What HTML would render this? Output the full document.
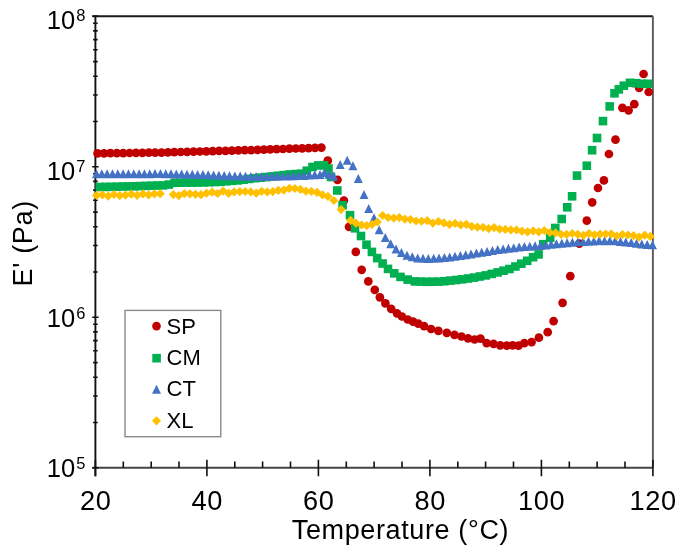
<!DOCTYPE html>
<html><head><meta charset="utf-8"><style>
html,body{margin:0;padding:0;background:#fff;}
body{width:684px;height:559px;overflow:hidden;font-family:"Liberation Sans", sans-serif;}
svg{display:block;filter:blur(0.35px);}
</style></head><body>
<svg width="684" height="559" viewBox="0 0 684 559" font-family='"Liberation Sans", sans-serif' fill="#000">
<rect width="684" height="559" fill="#fff"/>
<path d="M92.4 16.3H652.9" stroke="#1a1a1a" stroke-width="1.9" fill="none"/>
<path d="M652.9 16.3V467.8" stroke="#5a5a5a" stroke-width="1.9" fill="none"/>
<path d="M92.4 467.8H652.9" stroke="#444" stroke-width="1.9" fill="none"/>
<path d="M95.4 15.4V476.2" stroke="#111" stroke-width="1.9" fill="none"/>
<path d="M93.1 422.5H97.7M93.1 396.0H97.7M93.1 377.2H97.7M93.1 362.6H97.7M93.1 350.7H97.7M93.1 340.6H97.7M93.1 331.9H97.7M93.1 324.2H97.7M93.1 272.0H97.7M93.1 245.5H97.7M93.1 226.7H97.7M93.1 212.1H97.7M93.1 200.2H97.7M93.1 190.1H97.7M93.1 181.4H97.7M93.1 173.7H97.7M93.1 121.5H97.7M93.1 95.0H97.7M93.1 76.2H97.7M93.1 61.6H97.7M93.1 49.7H97.7M93.1 39.6H97.7M93.1 30.9H97.7M93.1 23.2H97.7M92.2 467.8H98.6M92.2 317.3H98.6M92.2 166.8H98.6M92.2 16.3H98.6M95.4 459.8V476.2M206.9 459.8V476.2M318.4 459.8V476.2M429.9 459.8V476.2M541.4 459.8V476.2M652.9 459.8V476.2M123.3 461.5V467.8M151.2 461.5V467.8M179.0 461.5V467.8M234.8 461.5V467.8M262.6 461.5V467.8M290.5 461.5V467.8M346.3 461.5V467.8M374.1 461.5V467.8M402.0 461.5V467.8M457.8 461.5V467.8M485.6 461.5V467.8M513.5 461.5V467.8M569.3 461.5V467.8M597.1 461.5V467.8M625.0 461.5V467.8" stroke="#111" stroke-width="1.6" fill="none"/>
<g>
<g fill="#C00000"><circle cx="97.6" cy="153.4" r="4.35"/><circle cx="104.0" cy="153.3" r="4.35"/><circle cx="110.4" cy="153.2" r="4.35"/><circle cx="116.8" cy="153.2" r="4.35"/><circle cx="123.2" cy="153.1" r="4.35"/><circle cx="129.6" cy="153.0" r="4.35"/><circle cx="136.0" cy="152.9" r="4.35"/><circle cx="142.4" cy="152.8" r="4.35"/><circle cx="148.8" cy="152.7" r="4.35"/><circle cx="155.1" cy="152.7" r="4.35"/><circle cx="161.5" cy="152.6" r="4.35"/><circle cx="167.9" cy="152.4" r="4.35"/><circle cx="174.3" cy="152.2" r="4.35"/><circle cx="180.7" cy="152.0" r="4.35"/><circle cx="187.1" cy="151.8" r="4.35"/><circle cx="193.5" cy="151.7" r="4.35"/><circle cx="199.9" cy="151.5" r="4.35"/><circle cx="206.3" cy="151.3" r="4.35"/><circle cx="212.7" cy="151.1" r="4.35"/><circle cx="219.1" cy="150.9" r="4.35"/><circle cx="225.5" cy="150.8" r="4.35"/><circle cx="231.9" cy="150.6" r="4.35"/><circle cx="238.3" cy="150.4" r="4.35"/><circle cx="244.7" cy="150.2" r="4.35"/><circle cx="251.1" cy="150.1" r="4.35"/><circle cx="257.5" cy="149.9" r="4.35"/><circle cx="263.9" cy="149.7" r="4.35"/><circle cx="270.2" cy="149.4" r="4.35"/><circle cx="276.6" cy="149.2" r="4.35"/><circle cx="283.0" cy="149.0" r="4.35"/><circle cx="289.4" cy="148.7" r="4.35"/><circle cx="295.8" cy="148.5" r="4.35"/><circle cx="302.2" cy="148.3" r="4.35"/><circle cx="308.6" cy="148.1" r="4.35"/><circle cx="315.0" cy="147.8" r="4.35"/><circle cx="321.4" cy="147.6" r="4.35"/><circle cx="327.8" cy="160.7" r="4.35"/><circle cx="337.5" cy="179.8" r="4.35"/><circle cx="343.9" cy="200.6" r="4.35"/><circle cx="349.0" cy="226.8" r="4.35"/><circle cx="355.8" cy="251.9" r="4.35"/><circle cx="361.7" cy="269.8" r="4.35"/><circle cx="368.3" cy="281.4" r="4.35"/><circle cx="374.8" cy="289.9" r="4.35"/><circle cx="379.9" cy="297.3" r="4.35"/><circle cx="385.4" cy="303.4" r="4.35"/><circle cx="391.2" cy="308.9" r="4.35"/><circle cx="397.0" cy="313.3" r="4.35"/><circle cx="401.9" cy="316.5" r="4.35"/><circle cx="407.7" cy="319.5" r="4.35"/><circle cx="413.1" cy="321.7" r="4.35"/><circle cx="418.2" cy="323.6" r="4.35"/><circle cx="424.1" cy="326.1" r="4.35"/><circle cx="431.1" cy="329.0" r="4.35"/><circle cx="438.4" cy="330.9" r="4.35"/><circle cx="446.8" cy="332.9" r="4.35"/><circle cx="454.5" cy="334.8" r="4.35"/><circle cx="461.5" cy="336.5" r="4.35"/><circle cx="468.0" cy="338.3" r="4.35"/><circle cx="474.6" cy="339.5" r="4.35"/><circle cx="480.5" cy="338.7" r="4.35"/><circle cx="486.6" cy="343.1" r="4.35"/><circle cx="493.6" cy="343.9" r="4.35"/><circle cx="500.2" cy="345.3" r="4.35"/><circle cx="506.8" cy="345.6" r="4.35"/><circle cx="512.6" cy="345.3" r="4.35"/><circle cx="518.5" cy="345.6" r="4.35"/><circle cx="524.3" cy="343.1" r="4.35"/><circle cx="531.6" cy="342.1" r="4.35"/><circle cx="538.9" cy="337.7" r="4.35"/><circle cx="547.7" cy="332.2" r="4.35"/><circle cx="553.6" cy="321.2" r="4.35"/><circle cx="562.6" cy="302.8" r="4.35"/><circle cx="570.3" cy="276.2" r="4.35"/><circle cx="579.3" cy="243.6" r="4.35"/><circle cx="586.8" cy="220.6" r="4.35"/><circle cx="592.2" cy="202.3" r="4.35"/><circle cx="598.0" cy="188.0" r="4.35"/><circle cx="603.9" cy="180.4" r="4.35"/><circle cx="608.9" cy="154.0" r="4.35"/><circle cx="615.5" cy="139.7" r="4.35"/><circle cx="622.4" cy="107.8" r="4.35"/><circle cx="628.6" cy="110.3" r="4.35"/><circle cx="634.3" cy="104.2" r="4.35"/><circle cx="639.1" cy="87.8" r="4.35"/><circle cx="643.6" cy="74.0" r="4.35"/><circle cx="648.7" cy="92.0" r="4.35"/></g>
<g fill="#00B050"><rect x="95.5" y="182.7" width="8.6" height="8.6"/><rect x="101.2" y="182.6" width="8.6" height="8.6"/><rect x="107.0" y="182.5" width="8.6" height="8.6"/><rect x="112.7" y="182.4" width="8.6" height="8.6"/><rect x="118.5" y="182.2" width="8.6" height="8.6"/><rect x="124.2" y="182.1" width="8.6" height="8.6"/><rect x="130.0" y="182.0" width="8.6" height="8.6"/><rect x="135.7" y="181.8" width="8.6" height="8.6"/><rect x="141.5" y="181.6" width="8.6" height="8.6"/><rect x="147.2" y="181.4" width="8.6" height="8.6"/><rect x="153.0" y="181.2" width="8.6" height="8.6"/><rect x="158.7" y="181.1" width="8.6" height="8.6"/><rect x="164.5" y="180.3" width="8.6" height="8.6"/><rect x="170.2" y="178.5" width="8.6" height="8.6"/><rect x="176.0" y="178.4" width="8.6" height="8.6"/><rect x="181.7" y="178.3" width="8.6" height="8.6"/><rect x="187.5" y="178.3" width="8.6" height="8.6"/><rect x="193.2" y="178.2" width="8.6" height="8.6"/><rect x="199.0" y="178.1" width="8.6" height="8.6"/><rect x="204.7" y="177.9" width="8.6" height="8.6"/><rect x="210.5" y="177.7" width="8.6" height="8.6"/><rect x="216.2" y="177.5" width="8.6" height="8.6"/><rect x="222.0" y="177.0" width="8.6" height="8.6"/><rect x="227.7" y="176.5" width="8.6" height="8.6"/><rect x="233.5" y="176.1" width="8.6" height="8.6"/><rect x="239.2" y="175.4" width="8.6" height="8.6"/><rect x="245.0" y="174.6" width="8.6" height="8.6"/><rect x="250.7" y="173.9" width="8.6" height="8.6"/><rect x="256.5" y="173.4" width="8.6" height="8.6"/><rect x="262.2" y="172.8" width="8.6" height="8.6"/><rect x="268.0" y="172.1" width="8.6" height="8.6"/><rect x="273.7" y="171.4" width="8.6" height="8.6"/><rect x="279.5" y="170.8" width="8.6" height="8.6"/><rect x="285.2" y="170.2" width="8.6" height="8.6"/><rect x="291.0" y="169.8" width="8.6" height="8.6"/><rect x="296.7" y="169.4" width="8.6" height="8.6"/><rect x="302.5" y="166.4" width="8.6" height="8.6"/><rect x="308.2" y="162.7" width="8.6" height="8.6"/><rect x="314.0" y="161.1" width="8.6" height="8.6"/><rect x="319.7" y="160.9" width="8.6" height="8.6"/><rect x="324.2" y="164.2" width="8.6" height="8.6"/><rect x="326.7" y="172.7" width="8.6" height="8.6"/><rect x="333.0" y="186.2" width="8.6" height="8.6"/><rect x="338.3" y="200.9" width="8.6" height="8.6"/><rect x="345.7" y="210.9" width="8.6" height="8.6"/><rect x="350.7" y="224.0" width="8.6" height="8.6"/><rect x="356.7" y="231.7" width="8.6" height="8.6"/><rect x="362.2" y="240.4" width="8.6" height="8.6"/><rect x="367.6" y="247.6" width="8.6" height="8.6"/><rect x="372.9" y="253.8" width="8.6" height="8.6"/><rect x="378.3" y="259.2" width="8.6" height="8.6"/><rect x="383.7" y="264.6" width="8.6" height="8.6"/><rect x="389.9" y="269.0" width="8.6" height="8.6"/><rect x="396.2" y="272.6" width="8.6" height="8.6"/><rect x="403.4" y="275.3" width="8.6" height="8.6"/><rect x="410.5" y="277.1" width="8.6" height="8.6"/><rect x="416.4" y="277.3" width="8.6" height="8.6"/><rect x="422.3" y="277.5" width="8.6" height="8.6"/><rect x="428.2" y="277.4" width="8.6" height="8.6"/><rect x="434.2" y="277.3" width="8.6" height="8.6"/><rect x="440.1" y="276.9" width="8.6" height="8.6"/><rect x="446.0" y="276.3" width="8.6" height="8.6"/><rect x="451.9" y="275.7" width="8.6" height="8.6"/><rect x="457.8" y="275.0" width="8.6" height="8.6"/><rect x="463.7" y="274.2" width="8.6" height="8.6"/><rect x="469.7" y="273.3" width="8.6" height="8.6"/><rect x="475.6" y="272.2" width="8.6" height="8.6"/><rect x="481.5" y="271.1" width="8.6" height="8.6"/><rect x="487.4" y="269.6" width="8.6" height="8.6"/><rect x="493.3" y="268.1" width="8.6" height="8.6"/><rect x="499.2" y="266.4" width="8.6" height="8.6"/><rect x="505.1" y="264.7" width="8.6" height="8.6"/><rect x="511.1" y="262.2" width="8.6" height="8.6"/><rect x="517.0" y="259.4" width="8.6" height="8.6"/><rect x="522.9" y="256.5" width="8.6" height="8.6"/><rect x="528.8" y="252.9" width="8.6" height="8.6"/><rect x="534.3" y="250.1" width="8.6" height="8.6"/><rect x="538.9" y="239.9" width="8.6" height="8.6"/><rect x="545.9" y="233.5" width="8.6" height="8.6"/><rect x="551.0" y="223.7" width="8.6" height="8.6"/><rect x="557.4" y="214.7" width="8.6" height="8.6"/><rect x="562.9" y="203.0" width="8.6" height="8.6"/><rect x="567.8" y="192.0" width="8.6" height="8.6"/><rect x="572.7" y="171.3" width="8.6" height="8.6"/><rect x="582.5" y="161.4" width="8.6" height="8.6"/><rect x="587.8" y="145.9" width="8.6" height="8.6"/><rect x="592.7" y="133.7" width="8.6" height="8.6"/><rect x="598.7" y="116.8" width="8.6" height="8.6"/><rect x="605.4" y="102.1" width="8.6" height="8.6"/><rect x="610.2" y="89.0" width="8.6" height="8.6"/><rect x="614.5" y="85.1" width="8.6" height="8.6"/><rect x="619.5" y="81.4" width="8.6" height="8.6"/><rect x="625.7" y="78.5" width="8.6" height="8.6"/><rect x="632.0" y="78.9" width="8.6" height="8.6"/><rect x="637.7" y="79.5" width="8.6" height="8.6"/><rect x="643.9" y="79.5" width="8.6" height="8.6"/></g>
<g fill="#4472C4"><path d="M96.5 169.3L101.0 178.3L92.0 178.3ZM101.8 169.3L106.3 178.3L97.3 178.3ZM107.1 169.3L111.6 178.3L102.6 178.3ZM112.5 169.3L117.0 178.3L108.0 178.3ZM117.8 169.3L122.3 178.3L113.3 178.3ZM123.1 169.3L127.6 178.3L118.6 178.3ZM128.4 169.3L132.9 178.3L123.9 178.3ZM133.8 169.3L138.2 178.3L129.2 178.3ZM139.1 169.2L143.6 178.2L134.6 178.2ZM144.4 169.2L148.9 178.2L139.9 178.2ZM149.7 169.2L154.2 178.2L145.2 178.2ZM155.0 169.1L159.5 178.1L150.5 178.1ZM160.4 169.1L164.9 178.1L155.9 178.1ZM165.7 169.2L170.2 178.2L161.2 178.2ZM171.0 169.3L175.5 178.3L166.5 178.3ZM176.3 169.5L180.8 178.5L171.8 178.5ZM181.6 169.6L186.1 178.6L177.1 178.6ZM187.0 169.7L191.5 178.7L182.5 178.7ZM192.3 169.8L196.8 178.8L187.8 178.8ZM197.6 169.9L202.1 178.9L193.1 178.9ZM202.9 170.1L207.4 179.1L198.4 179.1ZM208.2 170.3L212.8 179.3L203.8 179.3ZM213.6 170.5L218.1 179.5L209.1 179.5ZM218.9 170.8L223.4 179.8L214.4 179.8ZM224.2 171.0L228.7 180.0L219.7 180.0ZM229.5 171.2L234.0 180.2L225.0 180.2ZM234.9 171.4L239.4 180.4L230.4 180.4ZM240.2 171.6L244.7 180.6L235.7 180.6ZM245.5 171.8L250.0 180.8L241.0 180.8ZM250.8 172.0L255.3 181.0L246.3 181.0ZM256.1 171.9L260.6 180.9L251.6 180.9ZM261.5 171.9L266.0 180.9L257.0 180.9ZM266.8 171.8L271.3 180.8L262.3 180.8ZM272.1 171.8L276.6 180.8L267.6 180.8ZM277.4 171.7L281.9 180.7L272.9 180.7ZM282.8 171.6L287.2 180.6L278.2 180.6ZM288.1 171.5L292.6 180.5L283.6 180.5ZM293.4 171.3L297.9 180.3L288.9 180.3ZM298.7 171.1L303.2 180.1L294.2 180.1ZM304.0 170.9L308.5 179.9L299.5 179.9ZM309.4 170.5L313.9 179.5L304.9 179.5ZM314.7 170.2L319.2 179.2L310.2 179.2ZM320.0 169.9L324.5 178.9L315.5 178.9ZM324.3 167.9L328.8 176.9L319.8 176.9ZM329.0 169.7L333.5 178.7L324.5 178.7ZM333.6 171.5L338.1 180.5L329.1 180.5ZM340.2 159.9L344.7 168.9L335.7 168.9ZM347.2 155.8L351.7 164.8L342.7 164.8ZM352.9 161.2L357.4 170.2L348.4 170.2ZM358.3 174.1L362.8 183.1L353.8 183.1ZM364.0 190.0L368.5 199.0L359.5 199.0ZM368.7 204.1L373.2 213.1L364.2 213.1ZM374.0 213.3L378.5 222.3L369.5 222.3ZM379.2 225.3L383.7 234.3L374.7 234.3ZM385.3 232.9L389.8 241.9L380.8 241.9ZM390.7 239.3L395.2 248.3L386.2 248.3ZM396.0 244.5L400.5 253.5L391.5 253.5ZM401.4 248.1L405.9 257.1L396.9 257.1ZM407.0 250.8L411.5 259.8L402.5 259.8ZM412.3 252.3L416.8 261.3L407.8 261.3ZM417.7 253.4L422.2 262.4L413.2 262.4ZM423.0 253.7L427.5 262.7L418.5 262.7ZM428.3 253.9L432.8 262.9L423.8 262.9ZM433.7 253.8L438.2 262.8L429.2 262.8ZM439.0 253.5L443.5 262.5L434.5 262.5ZM444.4 253.1L448.9 262.1L439.9 262.1ZM449.7 252.5L454.2 261.5L445.2 261.5ZM455.0 251.8L459.5 260.8L450.5 260.8ZM460.4 251.0L464.9 260.0L455.9 260.0ZM465.7 250.2L470.2 259.2L461.2 259.2ZM471.0 249.4L475.5 258.4L466.5 258.4ZM476.4 248.6L480.9 257.6L471.9 257.6ZM481.7 247.8L486.2 256.8L477.2 256.8ZM487.1 246.9L491.6 255.9L482.6 255.9ZM492.4 246.0L496.9 255.0L487.9 255.0ZM497.7 245.1L502.2 254.1L493.2 254.1ZM503.1 244.4L507.6 253.4L498.6 253.4ZM508.4 243.8L512.9 252.8L503.9 252.8ZM513.7 243.2L518.2 252.2L509.2 252.2ZM519.1 242.6L523.6 251.6L514.6 251.6ZM524.4 242.1L528.9 251.1L519.9 251.1ZM529.8 241.7L534.2 250.7L525.2 250.7ZM535.1 241.3L539.6 250.3L530.6 250.3ZM540.4 240.9L544.9 249.9L535.9 249.9ZM545.8 240.4L550.3 249.4L541.3 249.4ZM551.1 239.8L555.6 248.8L546.6 248.8ZM556.4 239.3L560.9 248.3L551.9 248.3ZM561.8 238.8L566.3 247.8L557.3 247.8ZM567.1 238.3L571.6 247.3L562.6 247.3ZM572.4 237.8L576.9 246.8L567.9 246.8ZM577.8 237.3L582.3 246.3L573.3 246.3ZM583.1 236.9L587.6 245.9L578.6 245.9ZM588.5 236.7L593.0 245.7L584.0 245.7ZM593.8 236.4L598.3 245.4L589.3 245.4ZM599.1 236.1L603.6 245.1L594.6 245.1ZM604.5 236.2L609.0 245.2L600.0 245.2ZM609.8 236.2L614.3 245.2L605.3 245.2ZM615.1 236.3L619.6 245.3L610.6 245.3ZM620.5 236.9L625.0 245.9L616.0 245.9ZM625.8 237.5L630.3 246.5L621.3 246.5ZM631.2 238.1L635.7 247.1L626.7 247.1ZM636.5 238.8L641.0 247.8L632.0 247.8ZM641.8 239.5L646.3 248.5L637.3 248.5ZM647.2 240.0L651.7 249.0L642.7 249.0ZM652.5 240.3L657.0 249.3L648.0 249.3Z"/></g>
<g fill="#FFC000"><path d="M96.6 190.7L101.2 195.3L96.6 199.9L92.0 195.3ZM102.4 190.2L107.0 194.8L102.4 199.4L97.8 194.8ZM108.2 191.5L112.8 196.1L108.2 200.7L103.6 196.1ZM113.9 189.9L118.5 194.5L113.9 199.1L109.3 194.5ZM119.7 191.0L124.3 195.6L119.7 200.2L115.1 195.6ZM125.5 190.5L130.1 195.1L125.5 199.7L120.9 195.1ZM131.3 189.6L135.9 194.2L131.3 198.8L126.7 194.2ZM137.1 190.7L141.7 195.3L137.1 199.9L132.5 195.3ZM142.9 189.3L147.5 193.9L142.9 198.5L138.3 193.9ZM148.6 190.3L153.2 194.9L148.6 199.5L144.0 194.9ZM154.4 189.2L159.0 193.8L154.4 198.4L149.8 193.8ZM160.2 189.1L164.8 193.7L160.2 198.3L155.6 193.7ZM173.4 190.0L178.0 194.6L173.4 199.2L168.8 194.6ZM178.9 191.0L183.5 195.6L178.9 200.2L174.3 195.6ZM184.4 189.0L189.0 193.6L184.4 198.2L179.8 193.6ZM190.0 189.2L194.6 193.8L190.0 198.4L185.4 193.8ZM195.5 189.7L200.1 194.3L195.5 198.9L190.9 194.3ZM201.0 190.1L205.6 194.7L201.0 199.3L196.4 194.7ZM206.5 188.6L211.1 193.2L206.5 197.8L201.9 193.2ZM212.1 187.6L216.7 192.2L212.1 196.8L207.5 192.2ZM217.6 188.9L222.2 193.5L217.6 198.1L213.0 193.5ZM223.1 186.5L227.7 191.1L223.1 195.7L218.5 191.1ZM228.6 188.7L233.2 193.3L228.6 197.9L224.0 193.3ZM234.1 187.3L238.7 191.9L234.1 196.5L229.5 191.9ZM239.7 187.0L244.3 191.6L239.7 196.2L235.1 191.6ZM245.2 186.9L249.8 191.5L245.2 196.1L240.6 191.5ZM250.7 187.3L255.3 191.9L250.7 196.5L246.1 191.9ZM256.2 188.6L260.8 193.2L256.2 197.8L251.6 193.2ZM261.7 186.7L266.3 191.3L261.7 195.9L257.1 191.3ZM267.3 187.3L271.9 191.9L267.3 196.5L262.7 191.9ZM272.8 187.0L277.4 191.6L272.8 196.2L268.2 191.6ZM278.3 185.7L282.9 190.3L278.3 194.9L273.7 190.3ZM283.8 185.6L288.4 190.2L283.8 194.8L279.2 190.2ZM289.4 183.7L294.0 188.3L289.4 192.9L284.8 188.3ZM294.9 183.9L299.5 188.5L294.9 193.1L290.3 188.5ZM300.4 184.8L305.0 189.4L300.4 194.0L295.8 189.4ZM305.9 186.6L310.5 191.2L305.9 195.8L301.3 191.2ZM311.4 186.8L316.0 191.4L311.4 196.0L306.8 191.4ZM317.0 187.8L321.6 192.4L317.0 197.0L312.4 192.4ZM322.5 190.2L327.1 194.8L322.5 199.4L317.9 194.8ZM328.0 191.8L332.6 196.4L328.0 201.0L323.4 196.4ZM333.9 195.9L338.5 200.5L333.9 205.1L329.3 200.5ZM341.1 205.0L345.7 209.6L341.1 214.2L336.5 209.6ZM350.6 215.8L355.2 220.4L350.6 225.0L346.0 220.4ZM355.9 218.6L360.5 223.2L355.9 227.8L351.3 223.2ZM361.6 220.4L366.2 225.0L361.6 229.6L357.0 225.0ZM366.8 221.0L371.4 225.6L366.8 230.2L362.2 225.6ZM372.1 219.8L376.7 224.4L372.1 229.0L367.5 224.4ZM377.4 217.4L382.0 222.0L377.4 226.6L372.8 222.0ZM382.6 210.9L387.2 215.5L382.6 220.1L378.0 215.5ZM388.2 212.9L392.8 217.5L388.2 222.1L383.6 217.5ZM393.8 213.5L398.4 218.1L393.8 222.7L389.2 218.1ZM399.3 213.0L403.9 217.6L399.3 222.2L394.7 217.6ZM404.9 214.5L409.5 219.1L404.9 223.7L400.3 219.1ZM410.5 214.9L415.1 219.5L410.5 224.1L405.9 219.5ZM416.1 216.4L420.7 221.0L416.1 225.6L411.5 221.0ZM421.6 216.6L426.2 221.2L421.6 225.8L417.0 221.2ZM427.2 216.1L431.8 220.7L427.2 225.3L422.6 220.7ZM432.8 218.5L437.4 223.1L432.8 227.7L428.2 223.1ZM438.4 216.9L443.0 221.5L438.4 226.1L433.8 221.5ZM443.9 218.3L448.5 222.9L443.9 227.5L439.3 222.9ZM449.5 219.8L454.1 224.4L449.5 229.0L444.9 224.4ZM455.1 218.8L459.7 223.4L455.1 228.0L450.5 223.4ZM460.7 220.3L465.3 224.9L460.7 229.5L456.1 224.9ZM466.3 219.7L470.9 224.3L466.3 228.9L461.7 224.3ZM471.8 221.8L476.4 226.4L471.8 231.0L467.2 226.4ZM477.4 222.6L482.0 227.2L477.4 231.8L472.8 227.2ZM483.0 222.7L487.6 227.3L483.0 231.9L478.4 227.3ZM488.6 224.0L493.2 228.6L488.6 233.2L484.0 228.6ZM494.1 223.0L498.7 227.6L494.1 232.2L489.5 227.6ZM499.7 224.5L504.3 229.1L499.7 233.7L495.1 229.1ZM505.3 224.8L509.9 229.4L505.3 234.0L500.7 229.4ZM510.9 225.3L515.5 229.9L510.9 234.5L506.3 229.9ZM516.5 225.3L521.1 229.9L516.5 234.5L511.9 229.9ZM522.0 226.6L526.6 231.2L522.0 235.8L517.4 231.2ZM527.6 227.2L532.2 231.8L527.6 236.4L523.0 231.8ZM533.2 226.3L537.8 230.9L533.2 235.5L528.6 230.9ZM538.8 227.2L543.4 231.8L538.8 236.4L534.2 231.8ZM544.3 225.9L548.9 230.5L544.3 235.1L539.7 230.5ZM549.9 227.9L554.5 232.5L549.9 237.1L545.3 232.5ZM555.5 228.3L560.1 232.9L555.5 237.5L550.9 232.9ZM561.1 229.7L565.7 234.3L561.1 238.9L556.5 234.3ZM566.6 229.8L571.2 234.4L566.6 239.0L562.0 234.4ZM572.2 228.9L576.8 233.5L572.2 238.1L567.6 233.5ZM577.8 229.7L582.4 234.3L577.8 238.9L573.2 234.3ZM583.4 230.7L588.0 235.3L583.4 239.9L578.8 235.3ZM589.0 229.0L593.6 233.6L589.0 238.2L584.4 233.6ZM594.5 230.2L599.1 234.8L594.5 239.4L589.9 234.8ZM600.1 229.5L604.7 234.1L600.1 238.7L595.5 234.1ZM605.7 229.4L610.3 234.0L605.7 238.6L601.1 234.0ZM611.3 229.3L615.9 233.9L611.3 238.5L606.7 233.9ZM616.8 231.4L621.4 236.0L616.8 240.6L612.2 236.0ZM622.4 229.9L627.0 234.5L622.4 239.1L617.8 234.5ZM628.0 230.4L632.6 235.0L628.0 239.6L623.4 235.0ZM633.6 231.0L638.2 235.6L633.6 240.2L629.0 235.6ZM639.1 232.5L643.7 237.1L639.1 241.7L634.5 237.1ZM644.7 230.6L649.3 235.2L644.7 239.8L640.1 235.2ZM650.3 231.8L654.9 236.4L650.3 241.0L645.7 236.4Z"/></g>
</g>
<rect x="125.0" y="310.4" width="95.8" height="126.3" fill="#fff" stroke="#8a8a8a" stroke-width="1.4"/><circle cx="156.5" cy="326.1" r="4.35" fill="#C00000"/><rect x="152.3" y="353.9" width="8.6" height="8.6" fill="#00B050"/><path d="M156.5 384.7L161.0 393.7L152.0 393.7Z" fill="#4472C4"/><path d="M156.5 416.2L161.1 420.8L156.5 425.4L151.9 420.8Z" fill="#FFC000"/><g font-size="22"><text x="166.6" y="333.6">SP</text><text x="166.6" y="364.9">CM</text><text x="166.6" y="396.3">CT</text><text x="166.6" y="428.1">XL</text></g>
<text x="75.2" y="476.8" text-anchor="end" font-size="25.5">10</text><text x="76.2" y="468.7" font-size="16.5">5</text><text x="75.2" y="326.6" text-anchor="end" font-size="25.5">10</text><text x="76.2" y="318.5" font-size="16.5">6</text><text x="75.2" y="179.6" text-anchor="end" font-size="25.5">10</text><text x="76.2" y="171.5" font-size="16.5">7</text><text x="75.2" y="29.2" text-anchor="end" font-size="25.5">10</text><text x="76.2" y="21.1" font-size="16.5">8</text>
<text x="95.7" y="510.2" text-anchor="middle" font-size="27.2" letter-spacing="0.6">20</text><text x="207.2" y="510.2" text-anchor="middle" font-size="27.2" letter-spacing="0.6">40</text><text x="318.7" y="510.2" text-anchor="middle" font-size="27.2" letter-spacing="0.6">60</text><text x="430.2" y="510.2" text-anchor="middle" font-size="27.2" letter-spacing="0.6">80</text><text x="541.7" y="510.2" text-anchor="middle" font-size="27.2" letter-spacing="0.6">100</text><text x="653.2" y="510.2" text-anchor="middle" font-size="27.2" letter-spacing="0.6">120</text>
<text x="400.5" y="538.9" text-anchor="middle" font-size="27" letter-spacing="0.62">Temperature (°C)</text>
<text transform="translate(32.4 243.3) rotate(-90)" text-anchor="middle" font-size="27" letter-spacing="0.7">E' (Pa)</text>
</svg>
</body></html>
